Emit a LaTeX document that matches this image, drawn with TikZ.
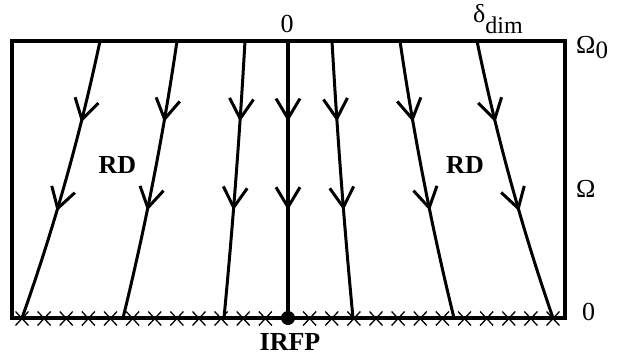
\documentclass[tikz,border=0pt]{standalone}
\usepackage{fontspec}
\setmainfont{Liberation Serif}
\usetikzlibrary{decorations.markings}
\begin{document}
\begin{tikzpicture}[x=1pt,y=-1pt,
  frame/.style={line width=4pt},
  chev/.style={line width=3pt},
  flow/.style={line width=3pt, postaction={decorate}, decoration={markings,
    mark=at position 0.28 with {\draw[chev] (-20pt,12pt) -- (0pt,0pt) -- (-20pt,-12pt);},
    mark=at position 0.6 with {\draw[chev] (-20pt,12pt) -- (0pt,0pt) -- (-20pt,-12pt);}}},
  lbl/.style={font=\fontsize{26}{26}\selectfont, inner sep=0pt},
  blbl/.style={font=\fontsize{26}{26}\selectfont\bfseries, inner sep=0pt},
  xmark/.style={line width=1.3pt},
  fixpt/.style={circle, fill=black, inner sep=0pt, minimum size=14pt}
]
\useasboundingbox (0,0) rectangle (624,356);
\coordinate (tl) at (12,41);
\coordinate (br) at (565,318);
\draw[frame] (tl) rectangle (br);
% crosses on the bottom edge
\foreach \i in {0,...,24} {
  \ifnum\i=12\relax\else
    \pgfmathsetmacro\xx{22+22.125*\i}
    \draw[xmark] (\xx-6.5,311.5) -- (\xx+6.5,325.5) (\xx-6.5,325.5) -- (\xx+6.5,311.5);
  \fi
}
% flow lines
\foreach \n/\xa/\xb in {1/100/22, 2/177/123, 3/245/224, 5/332/353, 6/400/454, 7/477/553} {
  \pgfmathsetmacro\ca{\xa+0.25*(\xb-\xa)}
  \pgfmathsetmacro\cb{\xa+0.58*(\xb-\xa)}
  \coordinate (t\n) at (\xa,41);
  \coordinate (b\n) at (\xb,318);
  \draw[flow] (t\n) .. controls (\ca,133.3) and (\cb,225.7) .. (b\n);
}
\node[fixpt] (irfp) at (288,318) {};
\coordinate (t4) at (288,41);
\draw[flow, line width=3.5pt] (t4) -- (irfp.center);
% labels
\node[lbl, anchor=base] (top0) at (287,32) {0};
\node[lbl, anchor=base west] (dlab) at (473,23) {δ\raisebox{-11pt}{\fontsize{24}{24}\selectfont dim}};
\node[lbl, anchor=base west] (om0) at (576,53) {Ω\raisebox{-5pt}{\fontsize{25}{25}\selectfont 0}};
\node[lbl, anchor=base west] (om) at (576,197) {Ω};
\node[lbl, anchor=base west] (bot0) at (582,320) {0};
\node[blbl, anchor=base] (rdl) at (117.5,173) {RD};
\node[blbl, anchor=base] (rdr) at (465,173) {RD};
\node[blbl, anchor=base] (irfplab) at (290,350) {IRFP};
\end{tikzpicture}
\end{document}
